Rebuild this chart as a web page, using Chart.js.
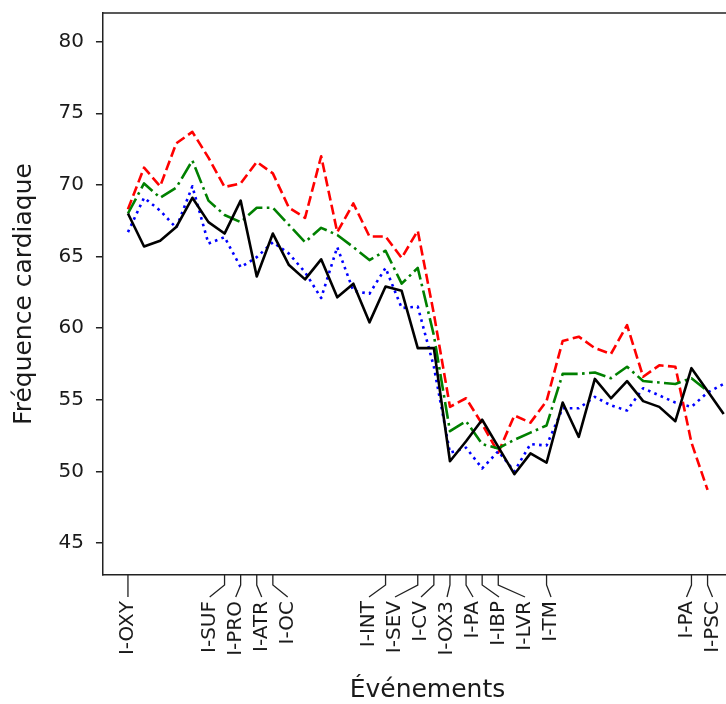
<!DOCTYPE html>
<html lang="fr">
<head>
<meta charset="utf-8">
<title>Fréquence cardiaque</title>
<script src="https://cdn.jsdelivr.net/npm/chart.js@4"></script>
<style>
  html, body { margin: 0; padding: 0; background: #fff; overflow: hidden; }
  #contenedor { width: 760px; height: 704px; }
</style>
</head>
<body>
<div id="contenedor"><canvas id="grafica" width="760" height="704"></canvas></div>
<script>
// valores, un punto por indice
const noir  = [68.0, 65.7, 66.1, 67.05, 69.1, 67.4, 66.6, 68.9, 63.6, 66.6, 64.4, 63.4, 64.8, 62.15, 63.1, 60.4, 62.9, 62.6, 58.6, 58.6,
               50.7, 52.1, 53.6, 51.7, 49.8, 51.25, 50.6, 54.8, 52.4, 56.45, 55.1, 56.3, 54.9, 54.5, 53.5, 57.2, 55.6, 54.0];
const rouge = [68.3, 71.2, 69.9, 72.9, 73.7, 71.9, 69.85, 70.1, 71.6, 70.8, 68.4, 67.7, 72.0, 66.7, 68.7, 66.4, 66.4, 64.9, 66.8, 61.0,
               54.5, 55.1, 53.3, 51.3, 53.9, 53.4, 54.9, 59.1, 59.4, 58.6, 58.2, 60.2, 56.6, 57.4, 57.3, 52.0, 48.7, null];
const vert  = [68.0, 70.1, 69.1, 69.8, 71.7, 68.9, 67.9, 67.4, 68.4, 68.4, 67.2, 66.0, 67.0, 66.5, 65.65, 64.75, 65.4, 63.1, 64.2, 59.5,
               52.8, 53.5, 51.9, 51.6, 52.2, 52.7, 53.2, 56.8, 56.8, 56.9, 56.5, 57.3, 56.3, 56.2, 56.1, 56.5, 55.6, null];
const bleu  = [66.7, 69.1, 68.2, 67.0, 69.9, 65.9, 66.35, 64.25, 64.95, 66.0, 65.2, 63.9, 62.1, 65.65, 62.6, 62.4, 64.2, 61.4, 61.5, 57.3,
               51.3, 51.65, 50.2, 51.4, 50.0, 51.9, 51.8, 54.4, 54.4, 55.2, 54.6, 54.25, 55.8, 55.3, 54.8, 54.5, 55.5, 56.1];

const evenements = ["I-OXY", "I-SUF", "I-PRO", "I-ATR", "I-OC", "I-INT", "I-SEV", "I-CV", "I-OX3", "I-PA", "I-IBP", "I-LVR", "I-TM", "I-PA", "I-PSC"];
const indicesEvenements = [0, 6, 7, 8, 9, 16, 18, 19, 20, 21, 22, 23, 26, 35, 36];
const ticksY = [45, 50, 55, 60, 65, 70, 75, 80];

function puntos(serie){
    return serie.map((v, i) => ({x: i, y: v}));
}

Chart.defaults.font.family = "'DejaVu Sans'";
Chart.defaults.color = "#1a1a1a";

// etiquetas del eje x con lineas guia (separadas para no encimarse)
const etiquetasEjeX = {
    id: "etiquetasEjeX",
    afterDraw(chart){
        const {ctx, chartArea, scales: {x}} = chart;
        const base = chartArea.bottom;
        const px = indicesEvenements.map(i => x.getPixelForValue(i));
        const pos = px.slice();
        const sep = 26;
        for (let k = 0; k < 300; k++) {
            for (let i = 0; i < pos.length - 1; i++) {
                const gap = pos[i + 1] - pos[i];
                if (gap < sep) {
                    const d = (sep - gap) / 2;
                    pos[i] -= d;
                    pos[i + 1] += d;
                }
            }
        }
        ctx.save();
        ctx.strokeStyle = "#222";
        ctx.lineWidth = 1.3;
        px.forEach((p, i) => {
            ctx.beginPath();
            ctx.moveTo(p, base);
            ctx.lineTo(p, base + 10);
            ctx.lineTo(pos[i], base + 22);
            ctx.stroke();
        });
        ctx.font = "20px 'DejaVu Sans'";
        ctx.fillStyle = "#1a1a1a";
        ctx.textAlign = "right";
        ctx.textBaseline = "middle";
        evenements.forEach((t, i) => {
            ctx.save();
            ctx.translate(pos[i], base + 26);
            ctx.rotate(-Math.PI / 2);
            ctx.fillText(t, 0, 0);
            ctx.restore();
        });
        // borde superior
        ctx.lineWidth = 1.5;
        ctx.beginPath();
        ctx.moveTo(chartArea.left, chartArea.top);
        ctx.lineTo(chartArea.right, chartArea.top);
        ctx.stroke();
        ctx.restore();
    }
};

const ctx = document.getElementById("grafica");
new Chart(ctx, {
    type: "line",
    data: {
        datasets: [
            {label: "noir", data: puntos(noir), borderColor: "#000000", borderWidth: 2.6, order: 0},
            {label: "bleu", data: puntos(bleu), borderColor: "#0000ff", borderWidth: 2.6, borderDash: [2.6, 4.3], order: 1},
            {label: "vert", data: puntos(vert), borderColor: "#008000", borderWidth: 2.6, borderDash: [17, 4.4, 2.6, 4.4], order: 2},
            {label: "rouge", data: puntos(rouge), borderColor: "#ff0000", borderWidth: 2.6, borderDash: [10, 4.4], order: 3}
        ]
    },
    options: {
        responsive: false,
        devicePixelRatio: 1,
        animation: false,
        layout: {padding: {top: 13, left: 9, right: 8, bottom: 1}},
        elements: {
            point: {radius: 0},
            line: {tension: 0, borderJoinStyle: "round", fill: false}
        },
        plugins: {legend: {display: false}, tooltip: {enabled: false}},
        scales: {
            x: {
                type: "linear",
                min: -1.553,
                max: 38.76,
                grid: {display: false},
                border: {display: true, color: "#222", width: 1.5},
                ticks: {display: false},
                title: {
                    display: true,
                    text: "Événements",
                    font: {size: 25, lineHeight: 1},
                    color: "#1a1a1a",
                    padding: {top: 95, bottom: 0}
                }
            },
            y: {
                min: 42.76,
                max: 82.0,
                grid: {display: true, drawOnChartArea: false, drawTicks: true, tickLength: 7, color: "#222", lineWidth: 1.5},
                border: {display: true, color: "#222", width: 1.5},
                afterBuildTicks: (scale) => {
                    scale.ticks = ticksY.map(v => ({value: v}));
                },
                afterFit: (scale) => {
                    scale.paddingTop = 0;
                    scale.paddingBottom = 0;
                },
                ticks: {font: {size: 20}, padding: 12, color: "#1a1a1a"},
                title: {
                    display: true,
                    text: "Fréquence cardiaque",
                    font: {size: 25, lineHeight: 1.2},
                    color: "#1a1a1a",
                    padding: {top: 0, bottom: 7.5}
                }
            }
        }
    },
    plugins: [etiquetasEjeX]
});
</script>
</body>
</html>
